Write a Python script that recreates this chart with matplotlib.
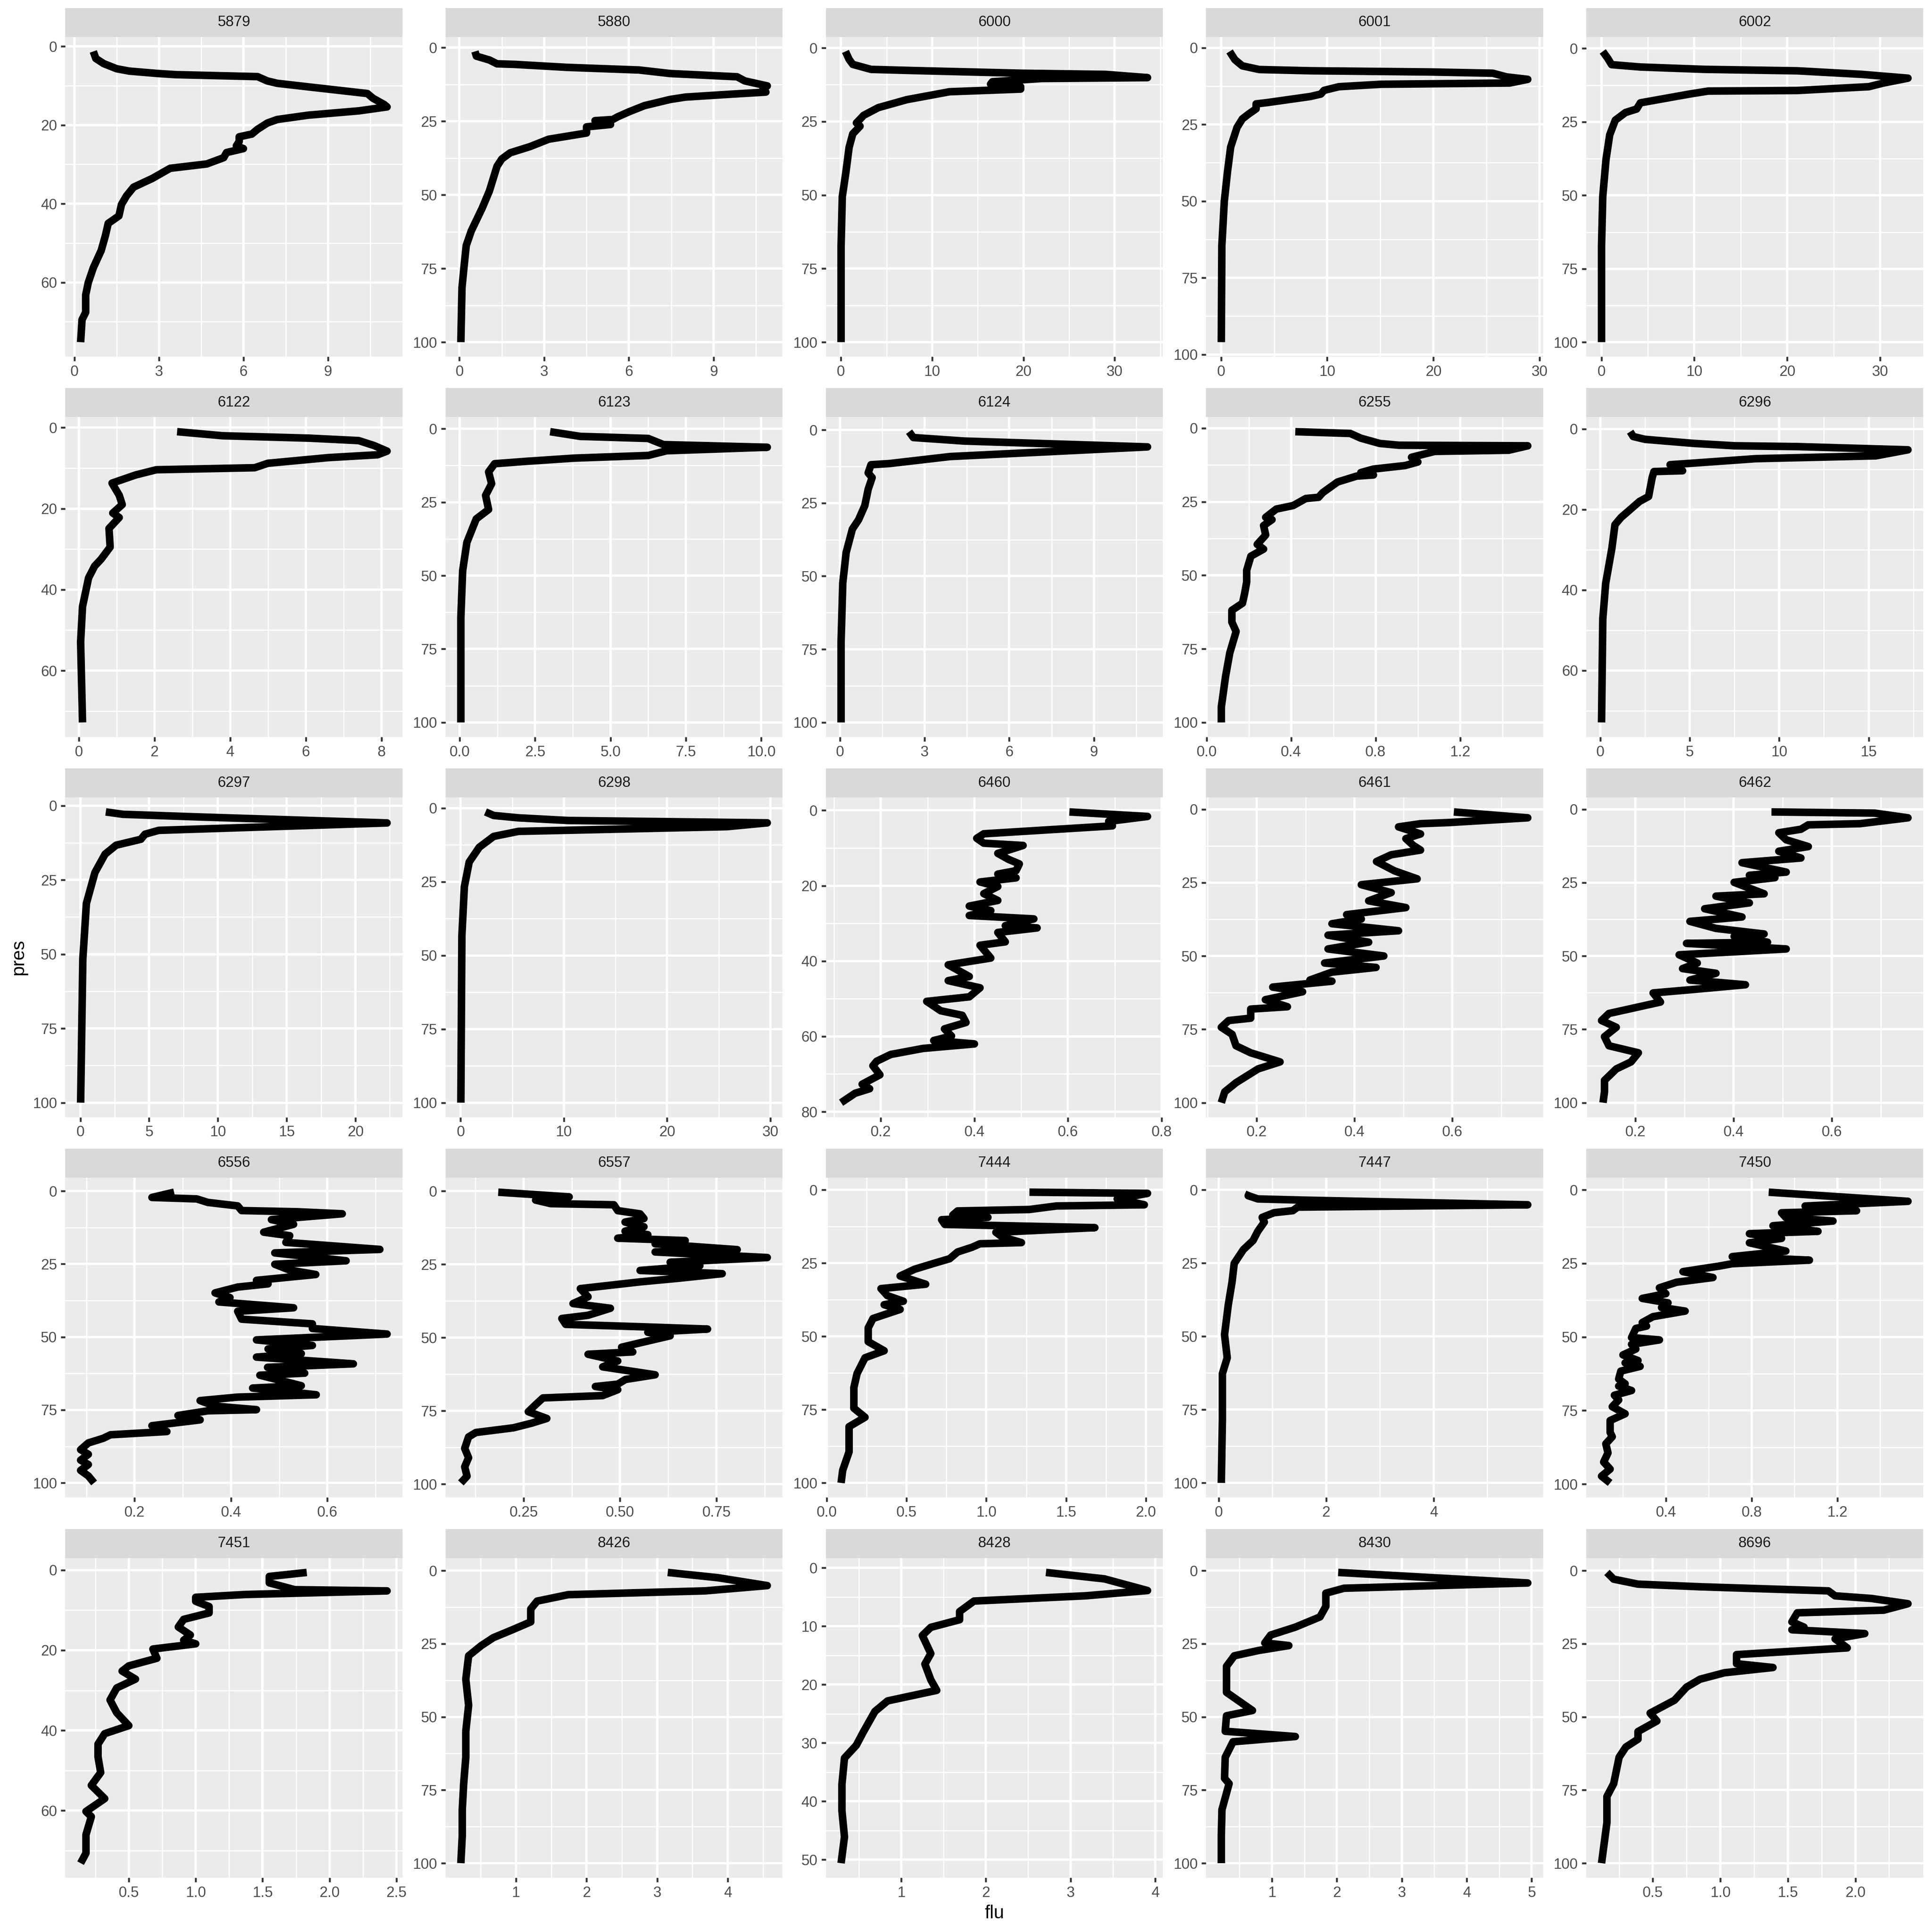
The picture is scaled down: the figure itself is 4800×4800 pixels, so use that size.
import numpy as np
import matplotlib
matplotlib.use("Agg")
import matplotlib.pyplot as plt
from matplotlib.patches import Rectangle

plt.rcParams["font.family"] = ["Liberation Sans", "DejaVu Sans"]

stations = ["5879", "5880", "6000", "6001", "6002",
            "6122", "6123", "6124", "6255", "6296",
            "6297", "6298", "6460", "6461", "6462",
            "6556", "6557", "7444", "7447", "7450",
            "7451", "8426", "8428", "8430", "8696"]

# profiles: pressure (dbar) and fluorescence
pres_5879 = [1.3, 3.1, 4.4, 5.7, 6.3, 6.9, 7.2, 7.7, 8.8, 9.4, 10.3, 12.0, 13.2, 14.8, 15.4, 16.4, 17.5, 18.6, 19.5, 21.1,
             22.3, 23.0, 24.2, 25.3, 26.0, 27.0, 28.3, 29.9, 31.0, 33.6, 35.8, 38.0, 40.2, 43.1, 45.0, 48.1, 51.9, 56.3,
             60.1, 63.2, 67.6, 69.5, 75.2]
flu_5879 = [0.67, 0.76, 1.04, 1.5, 1.95, 2.95, 3.6, 6.5, 6.85, 7.2, 8.3, 10.4, 10.6, 11.0, 11.1, 10.1, 8.3, 7.2, 6.85, 6.5,
            6.3, 5.85, 5.85, 5.75, 6.0, 5.4, 5.3, 4.7, 3.4, 2.76, 2.1, 1.85, 1.67, 1.58, 1.2, 1.1, 0.95, 0.67,
            0.49, 0.4, 0.4, 0.27, 0.22]

pres_5880 = [1.3, 2.9, 4.2, 5.5, 5.7, 6.7, 7.6, 8.8, 9.9, 11.3, 13.0, 13.9, 15.1, 16.0, 16.8, 17.6, 19.7, 21.8, 23.5, 24.4,
             24.8, 26.1, 26.9, 29.0, 31.1, 33.6, 35.7, 37.8, 40.3, 48.7, 54.6, 62.2, 67.2, 75.6, 81.5, 100]
flu_5880 = [0.55, 0.6, 1.06, 1.33, 1.97, 3.8, 6.36, 7.46, 9.83, 10.1, 10.9, 10.75, 10.85, 9.3, 8.0, 7.46, 6.55, 6.0, 5.6, 5.43,
            4.8, 5.35, 4.5, 4.5, 3.16, 2.5, 1.8, 1.5, 1.33, 1.06, 0.8, 0.42, 0.24, 0.15, 0.09, 0.05]

pres_6000 = [1.2, 3.9, 5.6, 7.3, 7.7, 8.6, 9.0, 10.1, 10.4, 11.5, 12.3, 13.2, 14.0, 14.9, 17.6, 20.3, 22.9, 25.5, 26.6,
             29.2, 33.8, 42.2, 50.6, 67.4, 100]
flu_6000 = [0.5, 0.9, 1.3, 3.3, 8.0, 19.7, 29, 33.6, 22, 16.6, 16.4, 19.7, 19.7, 11.9, 7.2, 4.1, 2.5, 1.7, 2.1,
            1.3, 0.9, 0.55, 0.15, 0.02, 0.02]

pres_6001 = [1.2, 3.9, 5.9, 7.1, 7.5, 7.9, 8.3, 9.5, 10.3, 11.5, 11.9, 12.7, 13.9, 15.1, 15.9, 17.9, 18.3, 19.9, 21.6,
             23.2, 26.0, 32.4, 40.5, 50.1, 64.6, 96]
flu_6001 = [0.8, 1.3, 2.0, 3.6, 8.4, 19.8, 25.6, 26.9, 28.9, 27.2, 15.1, 11.1, 9.7, 9.4, 8.4, 4.3, 3.3, 3.3, 2.6,
            2.0, 1.5, 0.9, 0.6, 0.3, 0.07, 0.02]

pres_6002 = [1.0, 3.4, 5.5, 6.3, 7.1, 7.6, 8.8, 10.1, 11.8, 13.0, 14.3, 14.5, 15.5, 18.5, 20.6, 21.8, 24.4, 29.4, 37.8,
             50.4, 67.2, 100]
flu_6002 = [0.15, 0.7, 1.1, 4.2, 11.1, 21.1, 28, 33, 30.3, 28.8, 21.1, 11.5, 9.5, 4.2, 3.8, 2.6, 1.5, 0.9, 0.5,
            0.15, 0.02, 0.02]

pres_6122 = [1.0, 2.0, 2.6, 3.2, 4.4, 5.8, 6.7, 7.4, 8.8, 9.9, 10.4, 11.7, 13.7, 16.7, 19.0, 21.1, 22.2, 24.9, 29.5,
             32.5, 34.2, 37.1, 44.2, 52.9, 72.8]
flu_6122 = [2.6, 3.8, 6.1, 7.4, 7.8, 8.15, 7.9, 6.6, 5.0, 4.65, 2.05, 1.5, 0.88, 1.07, 1.15, 0.9, 1.07, 0.8, 0.83,
            0.59, 0.42, 0.26, 0.1, 0.05, 0.1]

pres_6123 = [1.0, 2.6, 3.3, 5.4, 6.3, 7.5, 9.1, 10.0, 11.1, 11.9, 14.7, 18.7, 22.7, 27.5, 30.7, 38.7, 48.3, 64.3, 100]
flu_6123 = [3.0, 4.0, 6.25, 6.76, 10.2, 6.86, 6.25, 3.8, 2.2, 1.16, 0.96, 1.06, 0.86, 0.96, 0.55, 0.24, 0.1, 0.04, 0.04]

pres_6124 = [0.6, 2.6, 3.8, 5.8, 9.1, 11.5, 11.9, 14.7, 16.3, 20.3, 25.9, 30.7, 33.9, 41.9, 52.3, 72.4, 100]
flu_6124 = [2.45, 2.6, 4.4, 10.9, 3.9, 1.75, 1.1, 1.0, 1.14, 1.0, 0.88, 0.66, 0.44, 0.22, 0.1, 0.04, 0.04]

pres_6255 = [1.2, 1.8, 3.4, 5.2, 5.8, 6.0, 7.5, 7.9, 9.9, 11.5, 12.7, 13.9, 15.1, 15.9, 16.3, 18.3, 21.9, 23.5, 23.9,
             26.3, 27.5, 30.3, 31.1, 33.1, 36.3, 39.5, 41.1, 43.5, 48.3, 52.3, 56.3, 59.5, 61.9, 65.9, 69.1, 76.4,
             84.4, 94.8, 100]
flu_6255 = [0.42, 0.68, 0.73, 0.82, 0.91, 1.52, 1.43, 1.08, 0.97, 1.0, 0.94, 0.79, 0.73, 0.79, 0.71, 0.62, 0.55, 0.53,
            0.47, 0.41, 0.33, 0.28, 0.31, 0.27, 0.28, 0.24, 0.27, 0.21, 0.19, 0.19, 0.18, 0.17, 0.12, 0.12, 0.14, 0.11,
            0.09, 0.07, 0.07]

pres_6296 = [0.7, 1.9, 2.6, 3.6, 4.2, 4.4, 5.2, 6.7, 7.4, 8.6, 8.9, 10.4, 10.6, 12.1, 16.8, 18.0, 22.0, 23.8, 29.6,
             38.4, 47.2, 72.9]
flu_6296 = [1.67, 1.84, 2.5, 5.2, 7.5, 11.0, 17.2, 15.4, 8.7, 4.9, 3.9, 4.6, 3.0, 2.9, 2.7, 2.2, 1.16, 0.82, 0.65,
            0.3, 0.14, 0.07]

pres_6297 = [2.1, 2.9, 3.75, 5.8, 8.3, 9.6, 11.3, 13.3, 16.3, 22.5, 32.9, 51.7, 100]
flu_6297 = [1.85, 3.1, 8.4, 22.3, 5.7, 4.7, 4.4, 2.6, 1.8, 1.06, 0.44, 0.18, 0.02]

pres_6298 = [1.3, 2.5, 3.3, 4.2, 5.0, 6.3, 7.9, 9.6, 13.3, 18.3, 26.7, 43.3, 100]
flu_6298 = [2.4, 3.2, 5.6, 10.4, 29.7, 25.8, 5.6, 3.2, 1.8, 0.83, 0.36, 0.12, 0.02]

pres_6460 = [0.4, 1.6, 2.9, 4.1, 6.2, 7.4, 8.7, 9.3, 10.8, 11.4, 13.0, 14.2, 16.0, 16.9, 17.9, 19.0, 20.2, 22.1, 23.9,
             25.4, 26.6, 27.9, 28.8, 30.6, 31.2, 32.4, 34.9, 35.8, 39.2, 41.0, 44.1, 45.2, 47.1, 49.5, 50.7, 53.2,
             54.4, 56.3, 58.0, 59.9, 61.1, 62.0, 63.2, 64.8, 66.6, 67.8, 70.2, 72.7, 73.9, 75.1, 77.6]
flu_6460 = [0.603, 0.77, 0.687, 0.695, 0.42, 0.405, 0.42, 0.504, 0.466, 0.45, 0.473, 0.496, 0.489, 0.45, 0.489, 0.412,
            0.45, 0.42, 0.45, 0.389, 0.435, 0.389, 0.527, 0.466, 0.534, 0.45, 0.466, 0.412, 0.435, 0.344, 0.389,
            0.344, 0.412, 0.389, 0.298, 0.328, 0.374, 0.382, 0.336, 0.351, 0.313, 0.4, 0.29, 0.221, 0.191, 0.183,
            0.198, 0.16, 0.176, 0.145, 0.115]

pres_6461 = [0.9, 2.9, 4.5, 4.9, 6.0, 8.4, 10.0, 12.3, 13.9, 15.5, 17.8, 21.0, 23.7, 25.7, 28.4, 31.2, 33.5, 35.9,
             37.4, 39.0, 41.4, 42.9, 45.3, 47.6, 50.0, 52.4, 53.9, 55.5, 58.2, 58.6, 60.6, 62.2, 64.9, 67.3, 68.1,
             71.2, 72.0, 74.3, 76.7, 80.6, 83.0, 86.1, 88.5, 93.2, 96.3, 100]
flu_6461 = [0.603, 0.754, 0.595, 0.535, 0.49, 0.535, 0.505, 0.52, 0.535, 0.475, 0.445, 0.482, 0.528, 0.414, 0.475,
            0.429, 0.505, 0.384, 0.414, 0.354, 0.49, 0.346, 0.429, 0.346, 0.46, 0.339, 0.444, 0.354, 0.309, 0.354,
            0.233, 0.294, 0.218, 0.263, 0.188, 0.188, 0.143, 0.128, 0.15, 0.158, 0.188, 0.248, 0.203, 0.158, 0.135,
            0.128]

pres_6462 = [0.9, 1.3, 2.9, 4.9, 5.3, 6.8, 8.0, 10.4, 12.7, 14.3, 16.6, 18.2, 21.4, 22.5, 23.3, 24.9, 28.8, 29.6,
             31.9, 33.9, 36.7, 38.2, 40.6, 42.5, 43.3, 45.3, 45.7, 47.6, 49.6, 52.4, 54.3, 55.9, 58.2, 59.8, 61.4,
             62.6, 65.7, 69.6, 72.0, 74.3, 77.5, 80.6, 83.0, 86.1, 88.5, 92.4, 96.3, 100]
flu_6462 = [0.477, 0.687, 0.755, 0.657, 0.552, 0.537, 0.492, 0.507, 0.552, 0.492, 0.537, 0.417, 0.507, 0.432, 0.484,
            0.401, 0.462, 0.364, 0.432, 0.341, 0.417, 0.311, 0.364, 0.462, 0.401, 0.469, 0.304, 0.507, 0.289, 0.326,
            0.296, 0.364, 0.311, 0.424, 0.319, 0.236, 0.251, 0.146, 0.131, 0.161, 0.137, 0.146, 0.206, 0.191, 0.161,
            0.137, 0.137, 0.134]

pres_6556 = [0.4, 2.2, 2.7, 3.9, 5.1, 6.7, 7.1, 7.8, 9.8, 11.4, 14.1, 15.3, 17.6, 20.0, 21.2, 23.9, 25.1, 27.1, 28.6,
             30.6, 31.8, 32.9, 34.9, 36.5, 38.0, 40.0, 41.2, 43.9, 45.5, 47.1, 49.0, 51.0, 52.9, 54.1, 55.7, 56.9,
             59.2, 60.4, 62.4, 63.1, 66.7, 67.5, 69.8, 70.6, 71.8, 73.7, 74.9, 75.3, 76.9, 78.4, 80.4, 82.4, 83.5,
             84.7, 86.3, 88.6, 90.2, 92.2, 93.7, 95.7, 97.6, 100]
flu_6556 = [0.282, 0.236, 0.329, 0.352, 0.414, 0.422, 0.538, 0.631, 0.484, 0.53, 0.468, 0.522, 0.514, 0.709, 0.491,
            0.639, 0.491, 0.522, 0.576, 0.453, 0.477, 0.414, 0.367, 0.398, 0.375, 0.53, 0.414, 0.422, 0.569, 0.569,
            0.724, 0.453, 0.569, 0.477, 0.546, 0.453, 0.654, 0.476, 0.553, 0.46, 0.546, 0.445, 0.577, 0.414, 0.336,
            0.367, 0.453, 0.352, 0.29, 0.336, 0.236, 0.267, 0.15, 0.135, 0.104, 0.088, 0.104, 0.088, 0.104, 0.088,
            0.104, 0.116]

pres_6557 = [0.4, 2.0, 3.1, 4.3, 4.7, 6.7, 7.8, 9.4, 10.6, 12.2, 13.7, 14.9, 16.1, 16.9, 18.0, 20.0, 20.8, 22.7, 24.3,
             25.5, 27.1, 28.2, 29.8, 31.0, 33.3, 36.1, 38.4, 40.0, 42.4, 43.5, 45.5, 46.3, 47.1, 48.2, 49.4, 50.6,
             51.8, 53.3, 54.9, 55.7, 58.0, 60.0, 62.7, 64.3, 65.9, 66.7, 67.8, 69.8, 70.6, 72.9, 75.3, 77.6, 79.2,
             80.8, 82.4, 83.9, 87.8, 91.0, 94.1, 97.3, 99.6]
flu_6557 = [0.184, 0.368, 0.281, 0.32, 0.484, 0.494, 0.552, 0.562, 0.513, 0.562, 0.513, 0.572, 0.494, 0.669, 0.591,
            0.804, 0.591, 0.882, 0.63, 0.707, 0.552, 0.765, 0.649, 0.552, 0.397, 0.417, 0.378, 0.475, 0.417, 0.349,
            0.359, 0.552, 0.727, 0.572, 0.63, 0.591, 0.552, 0.504, 0.533, 0.417, 0.494, 0.455, 0.591, 0.514, 0.494,
            0.436, 0.494, 0.455, 0.3, 0.281, 0.262, 0.31, 0.271, 0.223, 0.126, 0.107, 0.097, 0.107, 0.097, 0.103,
            0.087]

pres_7444 = [0.8, 1.2, 3.1, 5.1, 5.5, 6.7, 7.2, 8.6, 9.4, 10.2, 11.8, 12.9, 14.5, 16.1, 18.0, 18.4, 19.6, 21.2, 23.5,
             25.1, 27.1, 29.4, 32.2, 33.7, 36.1, 38.0, 39.2, 40.8, 43.9, 47.1, 51.8, 54.9, 57.3, 62.7, 67.5, 74.5,
             77.6, 80.8, 89.4, 95.7, 100]
flu_7444 = [1.27, 2.01, 1.82, 1.99, 1.44, 1.27, 0.82, 0.79, 1.01, 0.72, 0.74, 1.68, 1.06, 1.1, 1.22, 0.96, 0.91, 0.82,
            0.77, 0.67, 0.55, 0.46, 0.62, 0.34, 0.38, 0.48, 0.36, 0.46, 0.29, 0.26, 0.26, 0.36, 0.24, 0.19, 0.17,
            0.17, 0.24, 0.14, 0.14, 0.1, 0.09]

pres_7447 = [0.8, 2.0, 3.1, 3.5, 5.1, 5.9, 7.1, 7.8, 9.4, 11.0, 14.1, 17.3, 20.4, 25.1, 31.4, 39.2, 49.4, 57.3, 62.7,
             78.4, 100]
flu_7447 = [0.58, 0.55, 0.73, 1.56, 5.75, 1.47, 1.38, 1.03, 0.81, 0.85, 0.73, 0.64, 0.46, 0.29, 0.25, 0.18, 0.11, 0.16,
            0.07, 0.07, 0.05]

pres_7450 = [0.8, 3.9, 5.5, 7.1, 7.8, 9.4, 10.6, 12.2, 14.1, 14.9, 16.5, 18.0, 20.8, 22.7, 23.9, 25.1, 25.9, 27.8,
             29.8, 31.4, 33.3, 35.3, 36.9, 38.4, 40.0, 41.2, 43.1, 45.1, 46.3, 47.1, 50.2, 51.0, 52.5, 54.1, 56.1,
             58.0, 58.8, 60.0, 61.6, 64.3, 65.9, 66.7, 68.2, 69.8, 71.4, 73.7, 76.1, 78.4, 82.4, 83.9, 86.3, 89.4,
             92.5, 94.9, 97.3, 99.6]
flu_7450 = [0.88, 1.53, 1.05, 1.29, 0.94, 0.96, 1.18, 0.9, 1.11, 0.79, 0.94, 0.79, 0.96, 0.71, 1.07, 0.71, 0.65, 0.48,
            0.62, 0.45, 0.37, 0.4, 0.29, 0.41, 0.38, 0.49, 0.34, 0.29, 0.31, 0.26, 0.24, 0.37, 0.24, 0.26, 0.2, 0.27,
            0.21, 0.28, 0.19, 0.18, 0.21, 0.18, 0.24, 0.16, 0.18, 0.15, 0.21, 0.14, 0.14, 0.15, 0.12, 0.13, 0.11,
            0.14, 0.1, 0.14]

pres_7451 = [0.6, 1.6, 3.2, 4.9, 5.2, 6.1, 6.8, 7.8, 9.1, 10.7, 12.3, 14.2, 16.2, 17.5, 18.4, 19.7, 22.0, 23.9, 25.2,
             27.2, 29.4, 32.4, 35.6, 38.8, 40.8, 43.4, 46.6, 50.5, 53.7, 57.0, 60.2, 61.5, 66.0, 70.6, 73.1]
flu_7451 = [1.83, 1.55, 1.55, 1.74, 2.43, 1.37, 1.0, 1.0, 1.1, 1.1, 0.91, 0.87, 0.96, 0.91, 1.0, 0.68, 0.71, 0.5, 0.45,
            0.55, 0.41, 0.36, 0.41, 0.5, 0.32, 0.27, 0.27, 0.29, 0.22, 0.32, 0.18, 0.22, 0.18, 0.18, 0.14]

pres_8426 = [0.6, 2.4, 5.1, 6.9, 8.2, 10.4, 13.1, 17.5, 20.2, 22.9, 25.6, 29.1, 37.1, 46.0, 54.9, 63.8, 72.8, 81.7,
             90.6, 100]
flu_8426 = [3.15, 3.86, 4.56, 3.68, 1.74, 1.3, 1.21, 1.21, 0.95, 0.68, 0.51, 0.33, 0.29, 0.33, 0.29, 0.29, 0.26, 0.24,
            0.24, 0.22]

pres_8428 = [0.8, 1.9, 3.9, 4.8, 5.7, 7.5, 8.9, 10.2, 11.6, 14.7, 16.5, 19.2, 21.0, 22.8, 24.6, 28.2, 30.4, 32.6,
             37.1, 41.6, 46.1, 50.6]
flu_8428 = [2.71, 3.4, 3.91, 3.18, 1.86, 1.69, 1.69, 1.35, 1.25, 1.35, 1.28, 1.35, 1.42, 0.84, 0.69, 0.55, 0.47, 0.33,
            0.3, 0.3, 0.33, 0.29]

pres_8430 = [0.6, 4.2, 6.0, 7.7, 12.2, 15.8, 19.3, 22.0, 24.7, 25.6, 27.3, 29.1, 32.7, 41.6, 47.8, 49.6, 54.9, 56.7,
             58.5, 63.8, 71.0, 72.8, 81.7, 90.6, 100]
flu_8430 = [2.02, 4.94, 2.11, 1.83, 1.83, 1.74, 1.36, 0.98, 0.89, 1.26, 0.79, 0.42, 0.3, 0.3, 0.7, 0.3, 0.28, 1.36,
            0.4, 0.28, 0.27, 0.34, 0.23, 0.22, 0.22]

pres_8696 = [0.6, 2.9, 4.6, 5.5, 6.9, 8.6, 9.5, 11.3, 13.5, 14.4, 17.5, 19.3, 20.2, 21.5, 23.3, 26.4, 28.7, 31.8, 33.1,
             34.9, 37.1, 39.8, 44.3, 48.7, 51.4, 55.0, 57.6, 60.3, 63.8, 72.8, 77.2, 86.1, 100]
flu_8696 = [0.16, 0.21, 0.39, 0.85, 1.8, 1.85, 2.12, 2.39, 2.21, 1.57, 1.53, 1.62, 1.53, 2.07, 1.85, 1.94, 1.12, 1.12,
            1.39, 1.03, 0.85, 0.75, 0.66, 0.48, 0.53, 0.39, 0.39, 0.3, 0.25, 0.21, 0.16, 0.16, 0.12]

pres_list = [pres_5879, pres_5880, pres_6000, pres_6001, pres_6002,
             pres_6122, pres_6123, pres_6124, pres_6255, pres_6296,
             pres_6297, pres_6298, pres_6460, pres_6461, pres_6462,
             pres_6556, pres_6557, pres_7444, pres_7447, pres_7450,
             pres_7451, pres_8426, pres_8428, pres_8430, pres_8696]
flu_list = [flu_5879, flu_5880, flu_6000, flu_6001, flu_6002,
            flu_6122, flu_6123, flu_6124, flu_6255, flu_6296,
            flu_6297, flu_6298, flu_6460, flu_6461, flu_6462,
            flu_6556, flu_6557, flu_7444, flu_7447, flu_7450,
            flu_7451, flu_8426, flu_8428, flu_8430, flu_8696]

# axis breaks per panel (free scales)
x_breaks = [[0, 3, 6, 9], [0, 3, 6, 9], [0, 10, 20, 30], [0, 10, 20, 30], [0, 10, 20, 30],
            [0, 2, 4, 6, 8], [0, 2.5, 5, 7.5, 10], [0, 3, 6, 9], [0, 0.4, 0.8, 1.2], [0, 5, 10, 15],
            [0, 5, 10, 15, 20], [0, 10, 20, 30], [0.2, 0.4, 0.6, 0.8], [0.2, 0.4, 0.6], [0.2, 0.4, 0.6],
            [0.2, 0.4, 0.6], [0.25, 0.5, 0.75], [0, 0.5, 1, 1.5, 2], [0, 2, 4], [0.4, 0.8, 1.2],
            [0.5, 1, 1.5, 2, 2.5], [1, 2, 3, 4], [1, 2, 3, 4], [1, 2, 3, 4, 5], [0.5, 1, 1.5, 2]]
y25 = [0, 25, 50, 75, 100]
y20 = [0, 20, 40, 60]
y_breaks = [y20, y25, y25, y25, y25,
            y20, y25, y25, y25, y20,
            y25, y25, [0, 20, 40, 60, 80], y25, y25,
            y25, y25, y25, y25, y25,
            y20, y25, [0, 10, 20, 30, 40, 50], y25, y25]


def fmt(breaks):
    dec = 0
    for b in breaks:
        s = ("%g" % b)
        if "." in s:
            dec = max(dec, len(s.split(".")[1]))
    return [("%." + str(dec) + "f") % b for b in breaks]


def minor_of(breaks, lo, hi):
    b = np.asarray(breaks, dtype=float)
    step = b[1] - b[0]
    cand = np.concatenate([[b[0] - step / 2], (b[:-1] + b[1:]) / 2, [b[-1] + step / 2]])
    return [c for c in cand if lo <= c <= hi]


fig = plt.figure(figsize=(16, 16), dpi=300)
gs = fig.add_gridspec(5, 5, left=0.0338, right=0.9955, top=0.9809, bottom=0.0281,
                      wspace=0.128, hspace=0.189)

strip_h = 0.0906
for i, st in enumerate(stations):
    ax = fig.add_subplot(gs[i // 5, i % 5])
    x = np.asarray(flu_list[i])
    y = np.asarray(pres_list[i])
    ax.plot(x, y, color="black", lw=4.5, solid_joinstyle="round", solid_capstyle="butt", zorder=3)

    xr = x.max() - x.min()
    yr = y.max() - y.min()
    xlo, xhi = x.min() - 0.05 * xr, x.max() + 0.05 * xr
    ylo, yhi = y.min() - 0.05 * yr, y.max() + 0.05 * yr
    ax.set_xlim(xlo, xhi)
    ax.set_ylim(yhi, ylo)

    xb = [b for b in x_breaks[i] if xlo <= b <= xhi]
    yb = [b for b in y_breaks[i] if ylo <= b <= yhi]
    ax.set_xticks(xb)
    ax.set_xticklabels(fmt(xb))
    ax.set_yticks(yb)
    ax.set_yticklabels(fmt(yb))
    ax.set_xticks(minor_of(xb, xlo, xhi), minor=True)
    ax.set_yticks(minor_of(yb, ylo, yhi), minor=True)

    ax.set_facecolor("#EBEBEB")
    for sp in ax.spines.values():
        sp.set_visible(False)
    ax.set_axisbelow(True)
    ax.grid(which="major", color="white", lw=1.4)
    ax.grid(which="minor", color="white", lw=0.7)
    ax.tick_params(which="major", length=2.75, width=1.1, color="#333333",
                   labelcolor="#4D4D4D", labelsize=8.8, pad=2.2)
    ax.tick_params(which="minor", length=0)

    ax.add_patch(Rectangle((0, 1), 1, strip_h, transform=ax.transAxes, clip_on=False,
                           facecolor="#D9D9D9", edgecolor="none"))
    ax.text(0.5, 1 + strip_h / 2, st, transform=ax.transAxes, ha="center", va="center",
            fontsize=8.8, color="#1A1A1A")

fig.text((0.0338 + 0.9955) / 2, 0.0096, "flu", ha="center", va="center", fontsize=11, color="black")
fig.text(0.0096, (0.9809 + 0.0281) / 2, "pres", ha="center", va="center", rotation=90,
         fontsize=11, color="black")

fig.savefig("out.png", dpi=300, facecolor="white")
